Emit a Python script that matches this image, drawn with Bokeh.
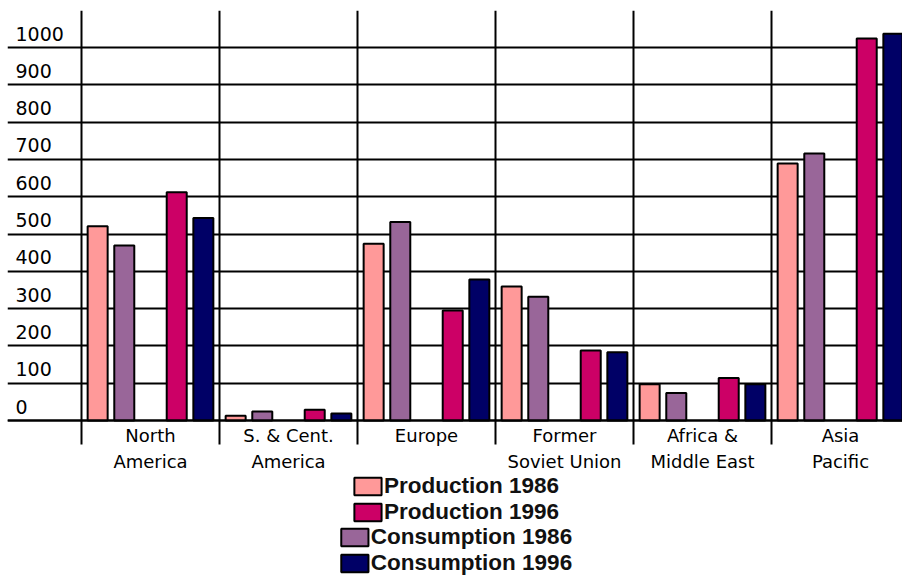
from bokeh.plotting import figure
from bokeh.models import FixedTicker, Legend, LegendItem, Range1d, Grid, ColumnDataSource
from bokeh.embed import file_html
from bokeh.resources import INLINE
from bokeh.core.properties import value

# ---------------- data ----------------
regions = ["North\nAmerica", "S. & Cent.\nAmerica", "Europe",
           "Former\nSoviet Union", "Africa &\nMiddle East", "Asia\nPacific"]
production_1986 = [521, 13, 474, 359, 97, 689]
consumption_1986 = [469, 24, 532, 332, 74, 716]
production_1996 = [612, 29, 295, 188, 114, 1024]
consumption_1996 = [543, 19, 378, 183, 97, 1037]
y_ticks = [0, 100, 200, 300, 400, 500, 600, 700, 800, 900, 1000]
y_labels = [str(t) for t in y_ticks]

series_names = ["Production 1986", "Consumption 1986", "Production 1996", "Consumption 1996"]
series_values = [production_1986, consumption_1986, production_1996, consumption_1996]
series_colors = ["#FF9999", "#996699", "#CC0066", "#000066"]
series_offsets = [-0.383, -0.19, 0.19, 0.383]

# ---------------- layout ----------------
W, H = 902, 576
LEFT, TOP = 7, 10
ZERO_PX = 420            # screen row of the value 0
PX_PER_GROUP = 138.0
PX_PER_UNIT = 0.373
FIRST_BOUNDARY_PX = 81 - LEFT
x_start = -FIRST_BOUNDARY_PX / PX_PER_GROUP
x_end = x_start + (W - LEFT) / PX_PER_GROUP
y_end = (ZERO_PX - TOP) / PX_PER_UNIT
y_start = -(H - ZERO_PX) / PX_PER_UNIT

centers = [i + 0.5 for i in range(len(regions))]
boundaries = [float(i) for i in range(len(regions) + 1)]

p = figure(width=W, height=H, x_range=Range1d(x_start, x_end), y_range=Range1d(y_start, y_end),
           y_axis_location=None, toolbar_location=None, output_backend="svg",
           min_border_left=LEFT, min_border_right=0, min_border_top=TOP, min_border_bottom=0)
p.outline_line_color = None
p.background_fill_color = "white"
p.border_fill_color = "white"

# horizontal grid lines only
p.center = [r for r in p.center if not isinstance(r, Grid)]
p.add_layout(Grid(dimension=1, ticker=FixedTicker(ticks=y_ticks),
                  grid_line_color="black", grid_line_width=2))

# x axis sitting on the zero line; group separators drawn as long minor ticks
ax = p.xaxis[0]
ax.fixed_location = 0
ax.ticker = FixedTicker(ticks=centers, minor_ticks=boundaries)
ax.major_label_overrides = {c: lbl for c, lbl in zip(centers, regions)}
ax.axis_line_color = "black"
ax.axis_line_width = 2
ax.major_tick_line_color = None
ax.major_tick_in = 0
ax.major_tick_out = 0
ax.minor_tick_line_color = "black"
ax.minor_tick_line_width = 2
ax.minor_tick_in = ZERO_PX - TOP
ax.minor_tick_out = 24
ax.major_label_standoff = -20
ax.major_label_text_font = "DejaVu Sans"
ax.major_label_text_font_size = "18px"
ax.major_label_text_color = "black"
ax.major_label_text_line_height = 1.28

# bars
renderers = []
bar_w = 0.145
for name, vals, color, off in zip(series_names, series_values, series_colors, series_offsets):
    src = ColumnDataSource(dict(x=[c + off for c in centers], top=vals))
    r = p.vbar(x="x", top="top", bottom=0, width=bar_w, source=src,
               fill_color=color, line_color="black", line_width=2)
    renderers.append(r)

# y tick labels inside plot, sitting a few pixels above each grid line
label_x = x_start + 8 / PX_PER_GROUP
label_lift = 14 / PX_PER_UNIT
p.text(x=[label_x] * len(y_ticks), y=[t + label_lift for t in y_ticks], text=y_labels,
       text_font=value("DejaVu Sans"), text_font_size="19px", text_color="black",
       text_align="left", text_baseline="alphabetic")

# legends: two centred blocks at the bottom
def make_legend(idx, margin):
    lg = Legend(items=[LegendItem(label=series_names[i], renderers=[renderers[i]]) for i in idx],
                location="bottom_center", orientation="vertical",
                glyph_width=34, glyph_height=22, label_height=25, spacing=0,
                label_standoff=0, padding=0, margin=margin,
                border_line_color=None, background_fill_alpha=0,
                label_text_font="Liberation Sans", label_text_font_style="bold",
                label_text_font_size="22.5px", label_text_color="#111111")
    p.add_layout(lg, "center")

make_legend([0, 2], 51)
make_legend([1, 3], 0)

open("out.html", "w").write(file_html(p, INLINE))
